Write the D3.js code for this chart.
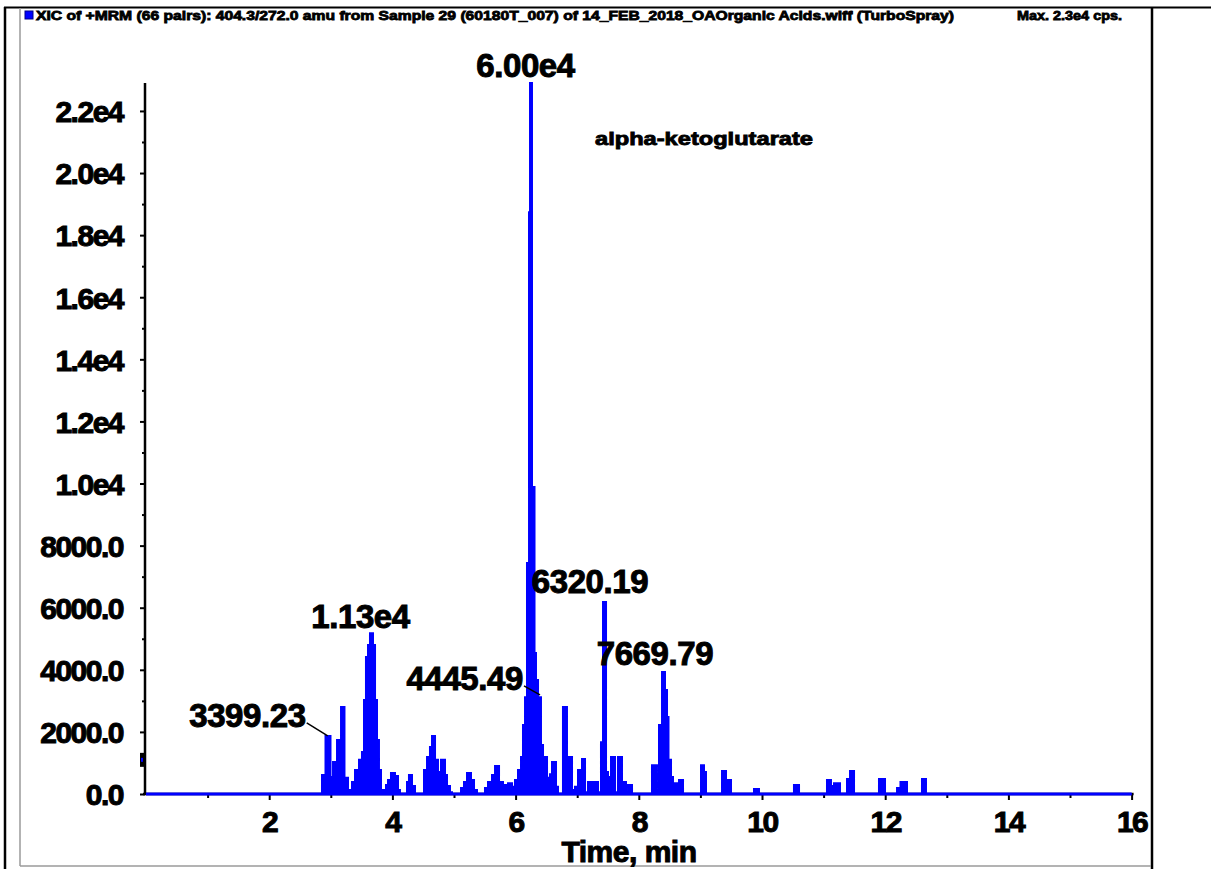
<!DOCTYPE html>
<html>
<head>
<meta charset="utf-8">
<script src="https://cdn.jsdelivr.net/npm/d3@7"></script>
<style>
  html, body { margin: 0; padding: 0; background: #fff; }
  svg { display: block; }
  text { font-family: "Liberation Sans", Arial, sans-serif; font-weight: bold; fill: #000; }
</style>
</head>
<body>
<svg id="chart" width="1211" height="869"></svg>
<script>
// ---- XIC trace: retention time (min) and intensity (cps), step samples ----
const times = [
  0.000, 2.857, 2.914, 2.995, 3.036, 3.101, 3.166, 3.222, 3.279, 3.312,
  3.344, 3.393, 3.458, 3.506, 3.539, 3.571, 3.604, 3.636, 3.685, 3.718,
  3.750, 3.782, 3.815, 3.864, 3.896, 3.929, 3.977, 4.042, 4.091, 4.123,
  4.237, 4.269, 4.318, 4.367, 4.513, 4.562, 4.610, 4.643, 4.692, 4.740,
  4.789, 4.854, 4.886, 4.935, 4.968, 5.114, 5.162, 5.211, 5.276, 5.325,
  5.373, 5.503, 5.552, 5.617, 5.666, 5.731, 5.795, 5.877, 5.942, 5.990,
  6.039, 6.088, 6.120, 6.153, 6.185, 6.218, 6.234, 6.266, 6.307, 6.331,
  6.364, 6.412, 6.445, 6.510, 6.558, 6.591, 6.656, 6.688, 6.769, 6.834,
  6.916, 6.964, 7.013, 7.078, 7.127, 7.175, 7.338, 7.386, 7.419, 7.468,
  7.500, 7.549, 7.614, 7.662, 7.727, 7.792, 7.825, 7.890, 8.214, 8.295,
  8.328, 8.377, 8.425, 8.458, 8.482, 8.523, 8.555, 8.653, 8.718, 9.010,
  9.058, 9.091, 9.351, 9.416, 9.497, 9.870, 9.951, 10.519, 10.601, 11.055,
  11.120, 11.169, 11.266, 11.380, 11.429, 11.494, 11.899, 11.997, 12.192, 12.248,
  12.354, 12.597, 12.662, 16.000
];
const intensity = [
  0, 610, 1870, 550, 1030, 1740, 2800, 520, 130, 0,
  390, 770, 1100, 1350, 3030, 4410, 4800, 5180, 4800, 3030,
  1740, 770, 130, 0, 290, 450, 680, 580, 130, 0,
  390, 610, 260, 0, 770, 1190, 1510, 1870, 1100, 710,
  1100, 610, 260, 60, 0, 190, 390, 680, 450, 130,
  0, 190, 390, 610, 900, 390, 290, 350, 230, 450,
  770, 1190, 2220, 3120, 7440, 18740, 22900, 9890, 4540, 3670,
  3120, 1580, 1190, 520, 640, 1030, 230, 0, 2800, 1190,
  130, 230, 770, 1130, 60, 390, 60, 1670, 6180, 710,
  550, 1190, 60, 1190, 390, 60, 290, 0, 930, 130,
  2220, 3930, 3350, 2480, 1100, 550, 350, 450, 0, 930,
  710, 0, 740, 450, 0, 160, 0, 290, 0, 450,
  260, 350, 0, 480, 740, 0, 480, 0, 190, 390,
  0, 480, 0, 0
];

// ---- axes ----
const xMax = 16;
const yMax = 22900;
const xTickValues = [2, 4, 6, 8, 10, 12, 14, 16];
const xTickLabels = ["2", "4", "6", "8", "10", "12", "14", "16"];
const xMinorValues = [1, 3, 5, 7, 9, 11, 13, 15];
const yTickValues = [0, 2000, 4000, 6000, 8000, 10000, 12000, 14000, 16000, 18000, 20000, 22000];
const yTickLabels = ["0.0", "2000.0", "4000.0", "6000.0", "8000.0", "1.0e4", "1.2e4", "1.4e4", "1.6e4", "1.8e4", "2.0e4", "2.2e4"];
const yMinorValues = [1000, 3000, 5000, 7000, 9000, 11000, 13000, 15000, 17000, 19000, 21000];
const thresholdValue = 1100;

// ---- peak annotations ----
const peakLabels = ["6.00e4", "1.13e4", "3399.23", "4445.49", "6320.19", "7669.79"];
const peakTimes = [6.234, 3.636, 2.950, 6.396, 7.443, 8.400];
const peakHeights = [22900, 5180, 1870, 3190, 6180, 3930];

// ---- texts ----
const titleText = "XIC of +MRM (66 pairs): 404.3/272.0 amu from Sample 29 (60180T_007) of 14_FEB_2018_OAOrganic Acids.wiff (TurboSpray)";
const maxText = "Max. 2.3e4 cps.";
const compoundName = "alpha-ketoglutarate";
const xAxisTitle = "Time, min";

const trace = times.map((t, i) => ({ t, v: intensity[i] }));

const svg = d3.select("#chart");
svg.append("rect").attr("width", 1211).attr("height", 869).attr("fill", "#fff");

// window frame
const frame = svg.append("g");
frame.append("line").attr("x1", 4).attr("x2", 1211).attr("y1", 7.5).attr("y2", 7.5)
  .attr("stroke", "#000").attr("stroke-width", 2);
frame.append("line").attr("x1", 5).attr("x2", 5).attr("y1", 7).attr("y2", 869)
  .attr("stroke", "#000").attr("stroke-width", 2.5);
frame.append("line").attr("x1", 1152).attr("x2", 1152).attr("y1", 7).attr("y2", 869)
  .attr("stroke", "#000").attr("stroke-width", 2.5);
frame.append("line").attr("x1", 20).attr("x2", 20).attr("y1", 8).attr("y2", 866)
  .attr("stroke", "#9a9a9a").attr("stroke-width", 1.5);
frame.append("line").attr("x1", 20).attr("x2", 1151).attr("y1", 866).attr("y2", 866)
  .attr("stroke", "#9a9a9a").attr("stroke-width", 1.5);

// header
svg.append("rect").attr("x", 25).attr("y", 11).attr("width", 8).attr("height", 8)
  .attr("fill", "#0000ff").attr("stroke", "#00008a").attr("stroke-width", 1);
svg.append("text").attr("x", 36).attr("y", 20).attr("font-size", 12.5)
  .attr("textLength", 918).attr("lengthAdjust", "spacingAndGlyphs")
  .attr("stroke", "#000").attr("stroke-width", 0.8)
  .text(titleText);
svg.append("text").attr("x", 1017).attr("y", 20).attr("font-size", 12.5)
  .attr("textLength", 105).attr("lengthAdjust", "spacingAndGlyphs")
  .attr("stroke", "#000").attr("stroke-width", 0.8)
  .text(maxText);

// scales
const x = d3.scaleLinear().domain([0, xMax]).range([146, 1131.6]);
const y = d3.scaleLinear().domain([0, yMax]).range([794, 83]);

// axes
const yAxis = svg.append("g").attr("transform", "translate(145,0)")
  .call(d3.axisLeft(y).tickValues(yTickValues).tickSize(5).tickPadding(17)
    .tickFormat((d, i) => yTickLabels[i]));
const yMinor = svg.append("g").attr("transform", "translate(145,0)")
  .call(d3.axisLeft(y).tickValues(yMinorValues).tickSize(3).tickFormat(""));
const xAxis = svg.append("g").attr("transform", "translate(0,794)")
  .call(d3.axisBottom(x).tickValues(xTickValues).tickSize(6).tickPadding(11)
    .tickFormat((d, i) => xTickLabels[i]));
const xMinor = svg.append("g").attr("transform", "translate(0,794)")
  .call(d3.axisBottom(x).tickValues(xMinorValues).tickSize(4).tickFormat(""));

[yAxis, yMinor, xAxis, xMinor].forEach(g => {
  g.select(".domain").remove();
  g.selectAll(".tick line").attr("stroke", "#000").attr("stroke-width", 2);
});
yAxis.selectAll(".tick text")
  .attr("font-size", 30).attr("letter-spacing", -1.5).attr("dy", "0.36em")
  .attr("stroke", "#000").attr("stroke-width", 1).attr("fill", "#000");
xAxis.selectAll(".tick text")
  .attr("font-size", 30).attr("letter-spacing", -1.5).attr("dy", "0.71em")
  .attr("stroke", "#000").attr("stroke-width", 1).attr("fill", "#000");

// axis lines
svg.append("line").attr("x1", 145).attr("x2", 145).attr("y1", y(yMax)).attr("y2", y(0) + 1)
  .attr("stroke", "#000").attr("stroke-width", 2.5);
svg.append("line").attr("x1", 143).attr("x2", x(xMax) + 2).attr("y1", y(0)).attr("y2", y(0))
  .attr("stroke", "#000").attr("stroke-width", 2.5);

// threshold marker on the intensity axis
svg.append("rect").attr("x", 140).attr("y", y(thresholdValue) - 7).attr("width", 4).attr("height", 14)
  .attr("fill", "#000");
svg.append("rect").attr("x", 141).attr("y", y(thresholdValue) - 2).attr("width", 2).attr("height", 4)
  .attr("fill", "#0000ff");

// chromatogram trace
const area = d3.area().curve(d3.curveStepAfter)
  .x(d => x(d.t)).y0(y(0)).y1(d => y(d.v));
const line = d3.line().curve(d3.curveStepAfter)
  .x(d => x(d.t)).y(d => y(d.v));
svg.append("path").datum(trace).attr("d", area).attr("fill", "#0000ff");
svg.append("path").datum(trace).attr("d", line)
  .attr("fill", "none").attr("stroke", "#0000ff").attr("stroke-width", 2);
svg.append("line").attr("x1", x(0)).attr("x2", x(xMax)).attr("y1", y(0)).attr("y2", y(0))
  .attr("stroke", "#0000ff").attr("stroke-width", 3);

// peak labels: offset from the apex, anchor, and optional leader line
const labelLayout = [
  { dx: -4.5, dy: -6, anchor: "middle", leader: false },
  { dx: -9.5, dy: -5, anchor: "middle", leader: false },
  { dx: -22, dy: -9, anchor: "end", leader: true },
  { dx: -17, dy: -5, anchor: "end", leader: true },
  { dx: -14.5, dy: -9, anchor: "middle", leader: false },
  { dx: -8.5, dy: -7, anchor: "middle", leader: false }
];
const ann = svg.append("g");
peakLabels.forEach((lab, i) => {
  const px = x(peakTimes[i]), py = y(peakHeights[i]);
  const L = labelLayout[i];
  ann.append("text").attr("x", px + L.dx).attr("y", py + L.dy)
    .attr("text-anchor", L.anchor).attr("font-size", 33).attr("letter-spacing", -0.4)
    .attr("stroke", "#000").attr("stroke-width", 1)
    .text(lab);
  if (L.leader) {
    ann.append("line").attr("x1", px + L.dx + 1).attr("y1", py + L.dy - 4)
      .attr("x2", px).attr("y2", py)
      .attr("stroke", "#000").attr("stroke-width", 1.5);
  }
});

// compound name
svg.append("text").attr("x", 595).attr("y", 145).attr("font-size", 19)
  .attr("textLength", 218).attr("lengthAdjust", "spacingAndGlyphs")
  .attr("stroke", "#000").attr("stroke-width", 0.9)
  .text(compoundName);

// x-axis title
svg.append("text").attr("x", 629).attr("y", 862).attr("text-anchor", "middle")
  .attr("font-size", 30).attr("letter-spacing", -0.5)
  .attr("stroke", "#000").attr("stroke-width", 1)
  .text(xAxisTitle);
</script>
</body>
</html>
